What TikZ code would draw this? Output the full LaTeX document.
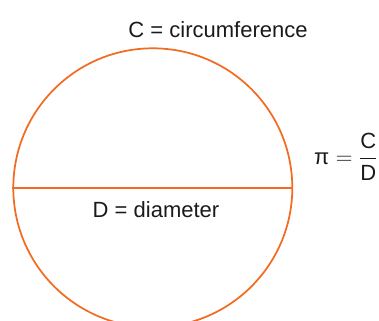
\documentclass[tikz,border=0pt]{standalone}
\usepackage{amsmath}
\usepackage{fontspec}
\setmainfont{Liberation Sans}
\usetikzlibrary{positioning}
\definecolor{corange}{HTML}{F26B21}
\definecolor{cink}{HTML}{1A1A1A}
\tikzset{
  every picture/.style={font=\fontsize{16.5}{19}\selectfont},
  ring/.style={circle, draw=corange, line width=1.3pt, inner sep=0pt, minimum size=209.25pt},
  chord/.style={draw=corange, line width=1.3pt},
  hand/.style={text=cink, inner sep=0pt},
}

\begin{document}
\begin{tikzpicture}[x=0.75pt, y=-0.75pt]
  \useasboundingbox (0,0) rectangle (379,321);
  \clip (0,0) rectangle (379,321);
  \node[ring] (circ) at (152.8,187.8) {};
  \draw[chord] (circ.west) -- (circ.east);
  \node[hand, anchor=base] (clabel) at (218,38) {C = circumference};
  \node[hand, anchor=base] (dlabel) at (156,218) {D = diameter};
  \node[hand] (pilabel) at (346,157) {$\text{π} = \dfrac{\text{C}}{\text{D}}$};
\end{tikzpicture}
\end{document}
